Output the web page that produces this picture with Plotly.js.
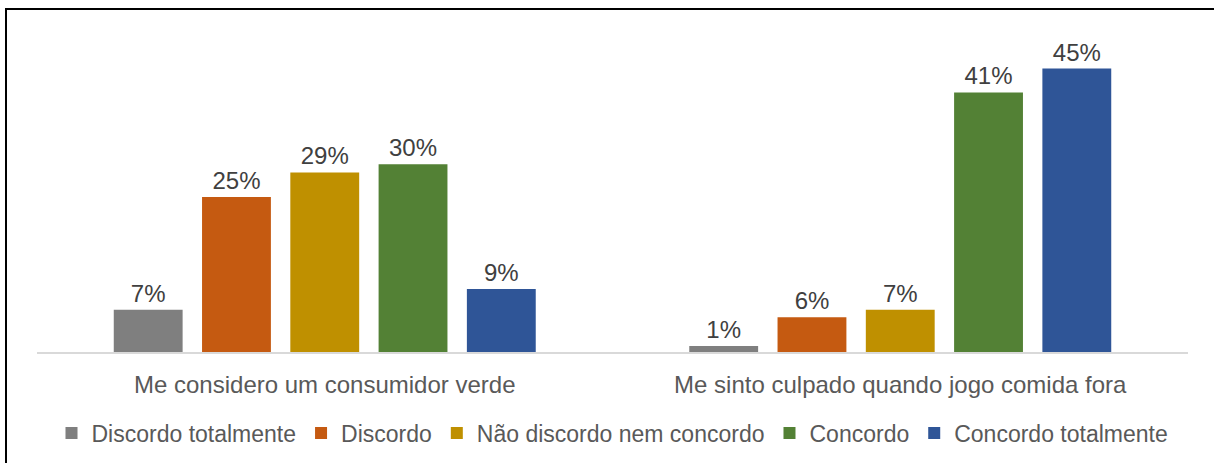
<!DOCTYPE html>
<html>
<head>
<meta charset="utf-8">
<script src="https://cdn.plot.ly/plotly-3.0.1.min.js"></script>
<style>
  body { margin: 0; background: #fff; }
  #wrap { position: relative; width: 1214px; height: 463px; }
  #frame { position: absolute; left: 5px; top: 8px; right: -10px; bottom: -10px;
           border-left: 2px solid #000; border-top: 2px solid #000; pointer-events: none; }
  #chart { width: 1214px; height: 463px; }
</style>
</head>
<body>
<div id="wrap">
  <div id="chart"></div>
  <div id="frame"></div>
</div>
<script>
// statements on the x axis
const categories = ['Me considero um consumidor verde', 'Me sinto culpado quando jogo comida fora'];

// answer scale, one trace per answer
const answers = ['Discordo totalmente', 'Discordo', 'Não discordo nem concordo', 'Concordo', 'Concordo totalmente'];
const colors = ['#7f7f7f', '#c55a11', '#bf9000', '#538135', '#2f5597'];

// bar heights (percent), per answer: [verde, culpado]
const discordoTotalmente = [6.7, 0.95];
const discordo = [24.6, 5.5];
const neutro = [28.5, 6.7];
const concordo = [29.8, 41.2];
const concordoTotalmente = [10.0, 45.0];

// labels printed above the bars
const labelsDiscordoTotalmente = ['7%', '1%'];
const labelsDiscordo = ['25%', '6%'];
const labelsNeutro = ['29%', '7%'];
const labelsConcordo = ['30%', '41%'];
const labelsConcordoTotalmente = ['9%', '45%'];

const series = [discordoTotalmente, discordo, neutro, concordo, concordoTotalmente];
const labels = [labelsDiscordoTotalmente, labelsDiscordo, labelsNeutro, labelsConcordo, labelsConcordoTotalmente];

const FONT = 'Liberation Sans, Arial, sans-serif';

const traces = answers.map((name, i) => ({
    type: 'bar',
    name: name,
    x: categories,
    y: series[i],
    text: labels[i],
    textposition: 'outside',
    cliponaxis: false,
    textfont: { family: FONT, size: 24, color: '#404040' },
    marker: { color: colors[i], line: { width: 0 } },
    hoverinfo: 'skip'
}));

const layout = {
    width: 1214,
    height: 463,
    paper_bgcolor: '#fff',
    plot_bgcolor: '#fff',
    margin: { l: 37, r: 26, t: 37, b: 111 },
    barmode: 'group',
    bargap: 0.233,
    bargroupgap: 0.22,
    font: { family: FONT, size: 23, color: '#595959' },
    xaxis: {
        showline: true,
        linecolor: '#d9d9d9',
        linewidth: 2,
        ticks: '',
        ticklabelstandoff: 10,
        tickfont: { family: FONT, size: 24, color: '#595959' },
        showgrid: false,
        zeroline: false
    },
    yaxis: {
        range: [0, 50],
        visible: false,
        showgrid: false,
        zeroline: false
    },
    showlegend: true,
    legend: {
        orientation: 'h',
        x: 0.5,
        xanchor: 'center',
        xref: 'paper',
        y: 30 / 463,
        yref: 'container',
        yanchor: 'middle',
        itemwidth: 30,
        font: { family: FONT, size: 23, color: '#595959' },
        itemclick: false,
        tracegroupgap: 0
    }
};

Plotly.newPlot('chart', traces, layout, { displayModeBar: false, staticPlot: true });
</script>
</body>
</html>
